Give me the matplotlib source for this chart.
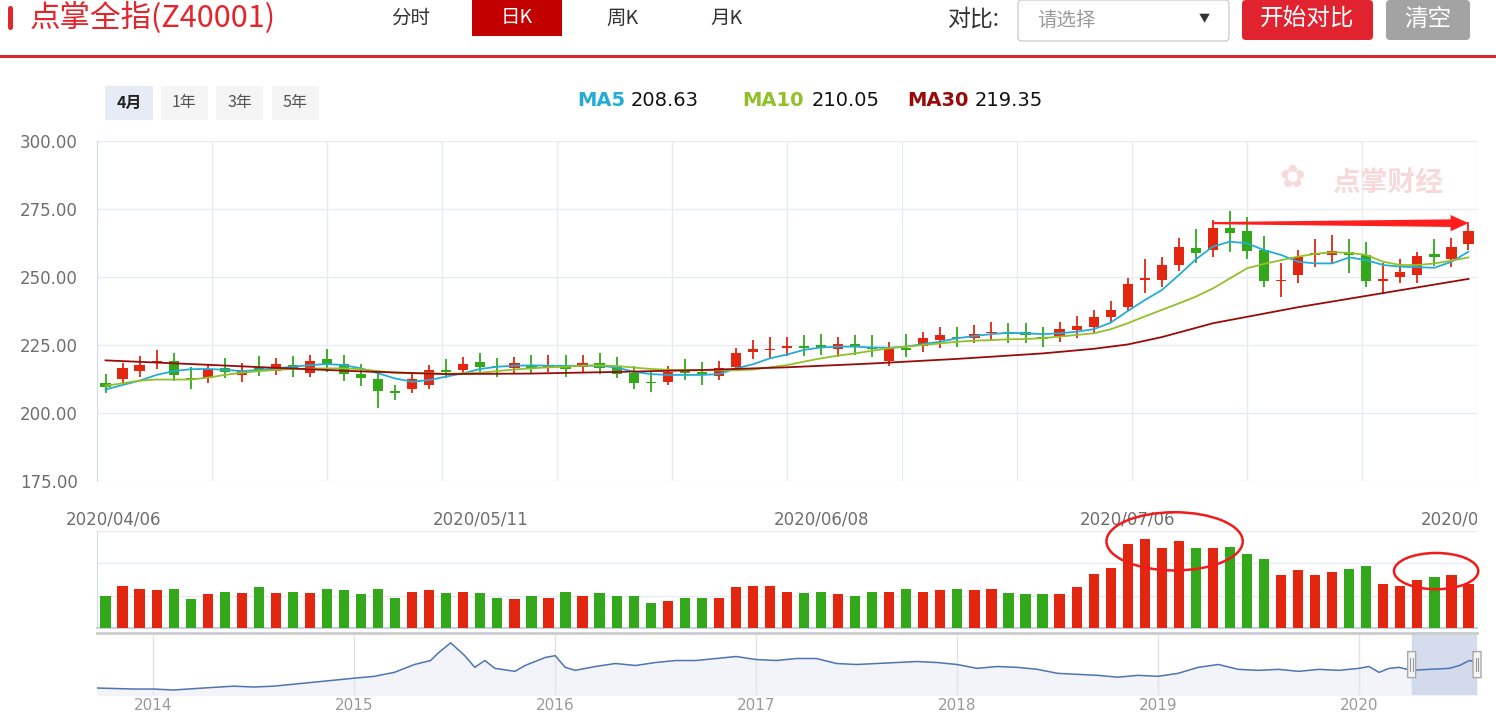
import matplotlib
matplotlib.use("Agg")
import matplotlib.pyplot as plt
from matplotlib.patches import Rectangle, FancyBboxPatch, Ellipse, Polygon
from matplotlib.transforms import blended_transform_factory
import numpy as np
import pandas as pd

plt.rcParams['font.family'] = ['Noto Sans CJK SC', 'DejaVu Sans']

# ---------------- data ----------------
# daily candles, 2020/04/06 .. 2020/08/03
opens = [210.9, 212.5, 215.4, 218.3, 219.1, 213.0, 212.7, 216.4, 213.8, 216.8,
         215.6, 217.5, 214.8, 219.7, 217.9, 214.3, 212.4, 208.1, 208.7, 210.3,
         215.8, 215.8, 218.6, 217.4, 216.4, 217.6, 216.9, 217.3, 216.8, 218.5,
         217.0, 214.6, 211.3, 211.5, 215.4, 215.2, 213.7, 217.0, 222.5, 223.0,
         223.8, 224.6, 225.0, 223.5, 225.2, 224.4, 219.3, 223.8, 224.8, 226.8,
         228.1, 227.5, 229.3, 229.9, 229.9, 227.8, 228.3, 230.5, 231.5, 235.2,
         239.1, 248.9, 248.9, 254.4, 260.5, 259.9, 268.1, 267.0, 259.9, 248.4,
         250.7, 258.0, 258.1, 259.3, 258.1, 248.7, 250.1, 250.7, 258.3, 256.5,
         262.1]
closes = [209.4, 216.4, 217.7, 219.1, 213.8, 212.1, 216.1, 215.0, 215.8, 215.6,
          218.0, 216.5, 219.1, 217.9, 214.2, 212.7, 208.2, 207.2, 212.4, 215.8,
          214.9, 218.0, 217.0, 216.8, 218.5, 216.4, 217.4, 216.0, 218.5, 216.7,
          214.3, 210.9, 210.9, 215.2, 214.8, 214.2, 216.4, 221.9, 223.5, 223.5,
          224.8, 224.0, 223.8, 225.2, 224.1, 223.5, 223.8, 223.2, 227.5, 228.7,
          227.5, 229.0, 229.9, 229.0, 228.7, 227.2, 230.8, 232.0, 235.2, 237.9,
          247.3, 249.5, 254.4, 260.9, 258.9, 268.1, 266.1, 259.6, 248.5, 248.9,
          257.5, 258.7, 259.7, 258.1, 248.5, 249.4, 251.7, 257.7, 257.2, 260.9,
          267.0]
highs = [214.2, 218.5, 220.9, 223.2, 221.9, 216.8, 217.9, 220.1, 218.5, 220.9,
         220.1, 220.9, 221.3, 223.4, 221.3, 218.0, 215.2, 210.3, 215.2, 217.6,
         219.7, 220.7, 221.9, 220.1, 220.7, 221.3, 221.3, 221.3, 221.3, 221.9,
         220.7, 217.4, 215.2, 217.4, 219.7, 218.6, 219.1, 224.0, 226.8, 227.8,
         227.8, 228.7, 229.0, 227.8, 228.7, 228.7, 226.2, 229.0, 229.7, 231.7,
         231.7, 232.4, 233.3, 233.0, 233.0, 231.7, 233.3, 235.7, 237.9, 241.2,
         249.5, 256.5, 257.2, 264.2, 267.6, 271.0, 274.3, 272.2, 265.1, 255.0,
         259.9, 263.9, 265.4, 263.9, 263.0, 255.0, 256.5, 259.3, 263.9, 264.2,
         270.3]
lows = [207.2, 211.2, 213.1, 216.1, 211.9, 208.7, 210.9, 212.7, 211.5, 213.6,
        214.0, 213.4, 213.1, 215.2, 211.9, 209.9, 201.7, 204.8, 207.2, 208.7,
        212.7, 214.6, 214.6, 213.1, 214.6, 214.2, 215.2, 213.1, 214.8, 214.2,
        212.7, 208.8, 207.8, 210.3, 212.1, 210.3, 212.1, 215.4, 219.7, 219.7,
        221.0, 221.0, 221.3, 220.5, 221.3, 220.7, 217.3, 220.7, 222.6, 224.0,
        224.4, 225.6, 226.6, 225.9, 225.9, 224.1, 226.2, 227.5, 229.3, 233.0,
        237.6, 244.0, 246.2, 252.3, 255.0, 257.5, 259.3, 256.5, 246.2, 242.8,
        247.7, 253.8, 255.3, 251.3, 246.2, 243.7, 247.7, 247.7, 254.0, 253.8,
        259.9]
volume = [50, 65, 61, 59, 61, 45, 52, 56, 54, 63,
          54, 56, 54, 61, 59, 52, 61, 47, 56, 59,
          54, 56, 54, 47, 45, 49, 47, 56, 49, 54,
          49, 49, 38, 42, 47, 47, 47, 63, 65, 65,
          56, 54, 56, 52, 49, 56, 56, 61, 56, 59,
          61, 59, 61, 54, 52, 52, 52, 63, 84, 93,
          130, 137, 123, 135, 123, 123, 126, 114, 107, 82,
          89, 82, 87, 91, 96, 68, 65, 75, 79, 82,
          68]

ma5 = [208.63, 210.3, 211.9, 214.0, 215.4, 216.1, 216.2, 215.9, 215.4, 215.8,
       216.4, 217.0, 217.6, 218.0, 217.6, 216.4, 214.6, 212.7, 211.5, 212.1,
       213.4, 214.6, 216.2, 217.0, 217.4, 217.5, 217.4, 217.3, 217.4, 217.4,
       216.7, 215.2, 214.3, 214.0, 214.0, 214.0, 214.3, 216.4, 217.9, 220.1,
       221.5, 223.2, 224.1, 224.4, 224.4, 224.1, 224.0, 224.4, 225.4, 226.2,
       227.5, 228.3, 229.0, 229.5, 229.3, 229.0, 229.3, 229.9, 230.8, 233.2,
       237.5, 241.5, 245.2, 250.7, 256.5, 261.2, 263.0, 262.4, 259.9, 258.1,
       255.6, 255.0, 255.0, 257.2, 256.2, 254.4, 253.8, 253.6, 253.4, 255.6,
       259.3]
ma10 = [210.05, 210.9, 211.9, 212.3, 212.3, 212.3, 213.0, 214.0, 214.8, 215.4,
        215.8, 216.2, 216.3, 216.4, 216.4, 216.1, 215.4, 214.8, 214.6, 214.6,
        214.4, 214.6, 214.8, 215.4, 216.0, 216.4, 216.8, 217.0, 217.4, 217.5,
        217.3, 216.7, 216.2, 215.9, 215.8, 215.7, 215.7, 215.7, 216.0, 216.8,
        217.6, 218.9, 220.1, 221.1, 221.9, 222.9, 223.8, 224.4, 225.0, 225.6,
        226.2, 226.6, 226.8, 227.1, 227.2, 227.5, 228.1, 228.7, 229.3, 230.8,
        233.0, 235.5, 237.9, 240.3, 242.8, 245.8, 249.5, 253.2, 254.8, 256.2,
        257.5, 258.5, 259.1, 258.9, 258.1, 255.6, 254.4, 254.4, 255.0, 256.0,
        257.2]
ma30_idx = [0, 5, 10, 15, 20, 25, 30, 35, 40, 45, 50, 55, 58, 60, 62, 65, 70, 75, 80]
ma30 = [219.35, 218.0, 216.6, 215.3, 214.3, 214.5, 215.1, 215.8, 216.8, 218.2,
        219.9, 221.9, 223.6, 225.2, 227.9, 233.0, 238.9, 244.1, 249.3]

date_idx = [0, 22, 42, 60, 80]
date_labels = ['2020/04/06', '2020/05/11', '2020/06/08', '2020/07/06', '2020/08/03']
price_ticks = [175, 200, 225, 250, 275, 300]

# long-range overview (decimal year, index level)
nav_t = [2013.72, 2013.9, 2014.0, 2014.1, 2014.25, 2014.4, 2014.5, 2014.6, 2014.75, 2014.9,
         2015.0, 2015.1, 2015.2, 2015.3, 2015.38, 2015.42, 2015.48, 2015.55, 2015.6, 2015.65,
         2015.7, 2015.8, 2015.85, 2015.95, 2016.0, 2016.05, 2016.1, 2016.2, 2016.3, 2016.4,
         2016.5, 2016.6, 2016.7, 2016.8, 2016.9, 2017.0, 2017.1, 2017.2, 2017.3, 2017.4,
         2017.5, 2017.6, 2017.7, 2017.8, 2017.9, 2018.0, 2018.1, 2018.2, 2018.3, 2018.4,
         2018.5, 2018.6, 2018.7, 2018.8, 2018.9, 2019.0, 2019.1, 2019.2, 2019.3, 2019.4,
         2019.5, 2019.6, 2019.7, 2019.8, 2019.9, 2020.0, 2020.05, 2020.1, 2020.15, 2020.2,
         2020.26, 2020.35, 2020.45, 2020.5, 2020.55, 2020.59]
nav_v = [79, 72, 72, 65, 79, 92, 86, 92, 113, 134,
         148, 161, 189, 244, 272, 327, 396, 306, 224, 272,
         217, 196, 237, 293, 306, 224, 203, 230, 251, 237,
         258, 272, 272, 286, 300, 279, 272, 286, 286, 251,
         244, 251, 258, 265, 258, 244, 217, 230, 224, 210,
         182, 175, 168, 155, 168, 161, 182, 224, 244, 210,
         203, 210, 196, 210, 203, 217, 230, 189, 217, 224,
         203, 210, 217, 237, 272, 258]
nav_years = [2014, 2015, 2016, 2017, 2018, 2019, 2020]

RED = '#e3260f'
GREEN = '#33a81b'
C_MA5 = '#24acd6'
C_MA10 = '#92c02a'
C_MA30 = '#980b0b'
GRID = '#e7ebf2'
AXCOL = '#d3dbea'
LABEL = '#6e6e6e'

W, H = 1496, 712
fig = plt.figure(figsize=(W / 100, H / 100), dpi=100)


def px_axes(x0, y0, x1, y1, **kw):
    return fig.add_axes([x0 / W, 1 - y1 / H, (x1 - x0) / W, (y1 - y0) / H], **kw)


# ---------------- page chrome (pixel coords) ----------------
ui = px_axes(0, 0, W, H)
ui.set_xlim(0, W)
ui.set_ylim(H, 0)
ui.axis('off')

ui.add_patch(FancyBboxPatch((8, 6), 5, 24, boxstyle='round,pad=0,rounding_size=2.5',
                            fc='#e3262d', ec='none'))
ui.text(30, 18, '点掌全指(Z40001)', color='#e3262d', fontsize=22, va='center', ha='left')
ui.add_patch(Rectangle((472, 0), 90, 36, fc='#c30000', ec='none'))
for tx, lab in zip([411, 517, 622, 727], ['分时', '日K', '周K', '月K']):
    ui.text(tx, 18, lab, fontsize=14, va='center', ha='center',
            color='white' if lab == '日K' else '#333333')
ui.text(974, 19, '对比:', fontsize=16.5, va='center', ha='center', color='#333333')
ui.add_patch(FancyBboxPatch((1018, 0), 211, 41, boxstyle='round,pad=0,rounding_size=4',
                            fc='white', ec='#cfcfcf', lw=1))
ui.text(1037, 20, '请选择', fontsize=14, va='center', ha='left', color='#9a9a9a')
ui.text(1204, 19, '▼', fontsize=8, va='center', ha='center', color='#333333')
ui.add_patch(FancyBboxPatch((1242, 0), 131, 40, boxstyle='round,pad=0,rounding_size=4',
                            fc='#e0232e', ec='none'))
ui.text(1307, 19, '开始对比', fontsize=17, va='center', ha='center', color='white')
ui.add_patch(FancyBboxPatch((1386, 0), 84, 40, boxstyle='round,pad=0,rounding_size=4',
                            fc='#a3a3a3', ec='none'))
ui.text(1428, 19, '清空', fontsize=17, va='center', ha='center', color='white')
ui.add_patch(Rectangle((0, 55), W, 3, fc='#d7262e', ec='none'))

# range buttons
for bx, bw, lab, sel in [(105, 48, '4月', True), (161, 47, '1年', False),
                         (216, 47, '3年', False), (272, 47, '5年', False)]:
    ui.add_patch(Rectangle((bx, 86), bw, 34, fc='#e6ebf5' if sel else '#f5f5f5', ec='none'))
    ui.text(bx + bw / 2, 103, lab, fontsize=11.5, va='center', ha='center',
            color='#222222' if sel else '#555555', fontweight='bold' if sel else 'normal')

# MA legend (values at the first bar)
for lx, vx, name, col, val in [(577, 631, 'MA5', C_MA5, ma5[0]),
                               (742, 812, 'MA10', C_MA10, ma10[0]),
                               (907, 975, 'MA30', C_MA30, ma30[0])]:
    ui.text(lx, 100, name, fontsize=14, va='center', ha='left', color=col,
            fontweight='bold', family='DejaVu Sans')
    ui.text(vx, 100, f'{val:.2f}', fontsize=14, va='center', ha='left',
            color='#111111', family='DejaVu Sans')

# ---------------- price panel ----------------
n = len(closes)
x = np.arange(n)
o = np.array(opens)
c = np.array(closes)
up = c >= o
cols = np.where(up, RED, GREEN)

ax = px_axes(97, 141, 1477, 481)
ax.set_facecolor('none')
ax.set_xlim(-0.5, n - 0.5)
ax.set_ylim(price_ticks[0], price_ticks[-1])
ax.vlines(x, lows, highs, colors=cols, lw=1.3, zorder=3)
ax.bar(x, np.maximum(np.abs(c - o), 0.35), bottom=np.minimum(o, c), width=0.6,
       color=cols, zorder=4)
ax.plot(x, ma5, color=C_MA5, lw=1.3, zorder=5)
ax.plot(x, ma10, color=C_MA10, lw=1.3, zorder=5)
ax.plot(ma30_idx, ma30, color=C_MA30, lw=1.3, zorder=5)

ax.set_yticks(price_ticks)
ax.set_yticklabels([f'{v:.2f}' for v in price_ticks], family='DejaVu Sans')
ax.set_xticks(np.linspace(-0.5, n - 0.5, 13))
ax.set_xticklabels([])
ax.tick_params(length=0)
ax.tick_params(axis='y', pad=14, labelsize=12, labelcolor=LABEL)
ax.grid(True, color=GRID, lw=1, zorder=0)
for s in ['top', 'right', 'bottom']:
    ax.spines[s].set_visible(False)
ax.spines['left'].set_color(AXCOL)

# watermark
ax.text(0.935, 0.876, '点掌财经', transform=ax.transAxes, fontsize=20, color='#f8d9d9',
        ha='center', va='center', fontweight='bold', zorder=1)
ax.text(0.866, 0.89, '✿', transform=ax.transAxes, fontsize=22, color='#f8d9d9',
        ha='center', va='center', zorder=1, family='DejaVu Sans')

# red arrow from the high of bar 65 to the last bar
ay = highs[-1] - 0.5
x0a, x1a = 65, n - 1
arrow = Polygon([(x0a, ay - 0.4), (x1a - 1.05, ay - 1.4), (x1a - 1.05, ay - 3.0), (x1a, ay),
                 (x1a - 1.05, ay + 3.0), (x1a - 1.05, ay + 1.4), (x0a, ay + 0.4)],
                closed=True, fc='#ff1f1f', ec='none', zorder=6)
ax.add_patch(arrow)

# ---------------- date labels ----------------
slot = 1380 / n
axd = px_axes(0, 505, 1477, 535)
axd.set_xlim(-0.5 - 97 / slot, n - 0.5)
axd.set_ylim(0, 1)
axd.axis('off')
for i, lab in zip(date_idx, date_labels):
    axd.text(i + (0.45 if i == 0 else 0), 0.5, lab, ha='center', va='center', fontsize=12,
             color=LABEL, family='DejaVu Sans', clip_on=True)

# ---------------- volume panel ----------------
axv = px_axes(97, 531, 1477, 628)
axv.set_facecolor('none')
axv.set_xlim(-0.5, n - 0.5)
axv.set_ylim(0, 150)
axv.bar(x, volume, width=0.6, color=cols, zorder=3)
axv.set_yticks([50, 100, 150])
axv.set_xticks([])
axv.set_yticklabels([])
axv.tick_params(length=0)
axv.grid(True, axis='y', color=GRID, lw=1, zorder=0)
axv.spines['top'].set_visible(False)
axv.spines['right'].set_visible(False)
axv.spines['left'].set_color(AXCOL)
axv.spines['bottom'].set_color('#c6d1e8')
axv.spines['bottom'].set_linewidth(1.5)
axv.add_patch(Ellipse((62.75, 134), 8.0, 90, fill=False, ec='#f01c1c', lw=1.8,
                      clip_on=False, zorder=6))
axv.add_patch(Ellipse((78.1, 88), 4.95, 56, fill=False, ec='#f01c1c', lw=1.8,
                      clip_on=False, zorder=6))

# ---------------- overview navigator ----------------
win0 = pd.Timestamp('2020-04-06')
win1 = pd.Timestamp('2020-08-03')
w0 = win0.year + (win0.dayofyear - 1) / 366
w1 = win1.year + (win1.dayofyear - 1) / 366

axn = px_axes(97, 633, 1477, 695)
axn.set_xlim(nav_t[0], w1)
axn.set_ylim(30, 465)
axn.fill_between(nav_t, nav_v, 30, color='#f2f4fa', zorder=1)
axn.plot(nav_t, nav_v, color='#4e74b2', lw=1.1, zorder=4)
axn.axvspan(w0, w1, color='#cdd6ea', alpha=0.85, zorder=2)
axn.set_xticks(nav_years)
axn.set_xticklabels([str(y) for y in nav_years], family='DejaVu Sans')
axn.set_yticks([])
axn.tick_params(length=0, pad=2, labelsize=11, labelcolor='#9a9a9a')
axn.grid(True, axis='x', color='#e3e3e3', lw=1, zorder=0)
for s in ['left', 'right', 'bottom']:
    axn.spines[s].set_visible(False)
axn.spines['top'].set_color('#cccccc')
axn.spines['top'].set_linewidth(2)

tr = blended_transform_factory(axn.transData, axn.transAxes)
yr_per_px = (w1 - nav_t[0]) / 1380
for hx in [w0, w1]:
    axn.add_patch(FancyBboxPatch((hx - 4 * yr_per_px, 0.28), 8 * yr_per_px, 0.42,
                                 boxstyle='round,pad=0,rounding_size=0.0005',
                                 transform=tr, fc='#f4f4f4', ec='#a8a8a8', lw=1,
                                 zorder=5, clip_on=False))
    for dx in (-1.2, 1.2):
        axn.plot([hx + dx * yr_per_px] * 2, [0.38, 0.60], transform=tr, color='#999999',
                 lw=0.8, zorder=6, clip_on=False)

fig.savefig('out.png', dpi=100)
